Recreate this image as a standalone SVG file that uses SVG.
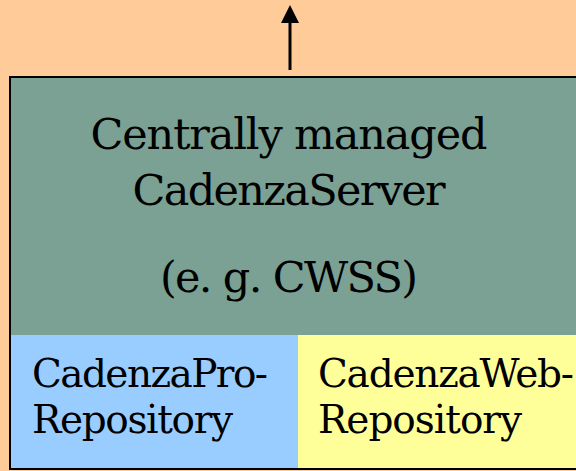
<svg xmlns="http://www.w3.org/2000/svg" width="576" height="471" viewBox="0 0 576 471">
<style>
.t{font-family:"DejaVu Serif","Liberation Serif",serif;fill:#000}
.big{font-size:43px}
.small{font-size:39px}
</style>
<defs>
<marker id="ah" markerWidth="6" markerHeight="6" refX="1" refY="3" orient="auto" markerUnits="strokeWidth"><path d="M0,0 L6,3 L0,6 Z" fill="#000"/></marker>
</defs>
<rect x="0" y="0" width="576" height="471" fill="#FFCC99"/>
<g id="connectors">
<line x1="290" y1="70" x2="290" y2="20" stroke="#000" stroke-width="3" marker-end="url(#ah)"/>
</g>
<g id="server">
<rect x="10" y="77" width="580" height="392" fill="#7AA194" stroke="#000" stroke-width="2"/>
<text class="t big" x="289" y="149" text-anchor="middle" textLength="397">Centrally managed</text>
<text class="t big" x="289" y="205" text-anchor="middle" textLength="313">CadenzaServer</text>
<text class="t big" x="289" y="292" text-anchor="middle" textLength="258">(e. g. CWSS)</text>
</g>
<g id="pro-repo">
<rect x="11" y="335" width="287" height="133" fill="#99CCFF"/>
<text class="t small" x="32" y="387" textLength="236">CadenzaPro-</text>
<text class="t small" x="32" y="433" textLength="201">Repository</text>
</g>
<g id="web-repo">
<rect x="298" y="335" width="280" height="133" fill="#FFFF99"/>
<text class="t small" x="318" y="387" textLength="256">CadenzaWeb-</text>
<text class="t small" x="318" y="433" textLength="204">Repository</text>
</g>
</svg>
